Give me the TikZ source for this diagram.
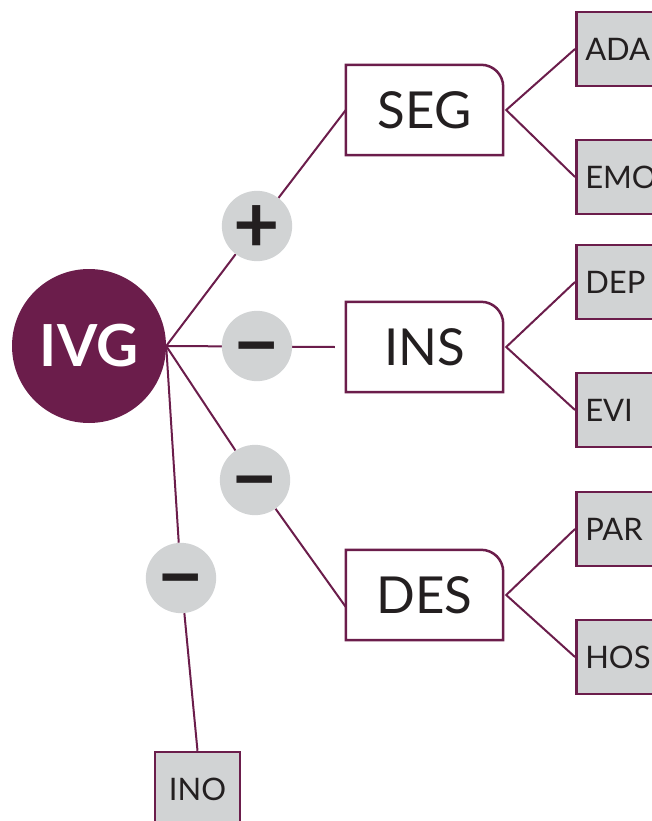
\documentclass[tikz,border=0pt]{standalone}
\usepackage{fontspec}
\setmainfont{Lato}
\usetikzlibrary{backgrounds}
\definecolor{ivgpurple}{HTML}{6B1D4B}
\definecolor{signgray}{HTML}{D1D3D4}
\definecolor{inkblack}{HTML}{231F20}
\tikzset{
  rim/.style={draw=ivgpurple,line width=2.5pt},
  link/.style={draw=ivgpurple,line width=2pt},
  mainbox/.style={minimum width=157pt,minimum height=90pt,inner sep=0pt,text=inkblack,font=\fontsize{51}{53}\selectfont},
  leafbox/.style={rim,fill=signgray,anchor=west,minimum height=74pt,text width=82pt,align=left,inner sep=9pt,text=inkblack,font=\fontsize{31}{33}\selectfont},
  signdot/.style={circle,fill=signgray,minimum size=68pt,inner sep=0pt,text=inkblack,text height=53pt,text depth=0pt,font=\bfseries\fontsize{80}{80}\selectfont},
}

\begin{document}
\begin{tikzpicture}[x=1pt,y=-1pt]
\useasboundingbox (0,0) rectangle (651,821);
%root
\node[circle,fill=ivgpurple,minimum size=154pt,inner sep=0pt,text=white,font=\bfseries\fontsize{58}{58}\selectfont](ivg)at(89,346){IVG};
%signs
\node[signdot](pos)at(257,226){+};
\node[signdot](neg1)at(257,346){−};
\node[signdot](neg2)at(255,480){−};
\node[signdot](neg3)at(181,578){−};
%main boxes
\node[mainbox](seg)at(424.5,110){SEG};
\node[mainbox](ins)at(424.5,347){INS};
\node[mainbox](des)at(424.5,595){DES};
\foreach \b in {seg,ins,des}{
\draw[rim](\b.south west)--(\b.north west)--([xshift=-22pt]\b.north east)
  arc[start angle=90,end angle=0,radius=22pt]--(\b.south east)--cycle;
}
%leaves
\node[leafbox](ada)at(575,49){ADA};
\node[leafbox](emo)at(575,177){EMO};
\node[leafbox](dep)at(575,282){DEP};
\node[leafbox](evi)at(575,410){EVI};
\node[leafbox](par)at(575,529){PAR};
\node[leafbox](hos)at(575,657){HOS};
\node[leafbox,anchor=center,text width=67pt,align=center](ino)at(197.5,789){INO};
%connectors
\begin{scope}[on background layer]
\draw[link](ivg.east)--(pos)--(seg.west);
\draw[link](ivg.east)--([xshift=-11pt]ins.west);
\draw[link](ivg.east)--(neg2)--([yshift=-12pt]des.west);
\draw[link](ivg.east)--(neg3)--(ino.north);
\draw[link](ada.west)--([xshift=3pt]seg.east)--(emo.west);
\draw[link](dep.west)--([xshift=3pt]ins.east)--(evi.west);
\draw[link](par.west)--([xshift=3pt]des.east)--(hos.west);
\end{scope}
\end{tikzpicture}
\end{document}
